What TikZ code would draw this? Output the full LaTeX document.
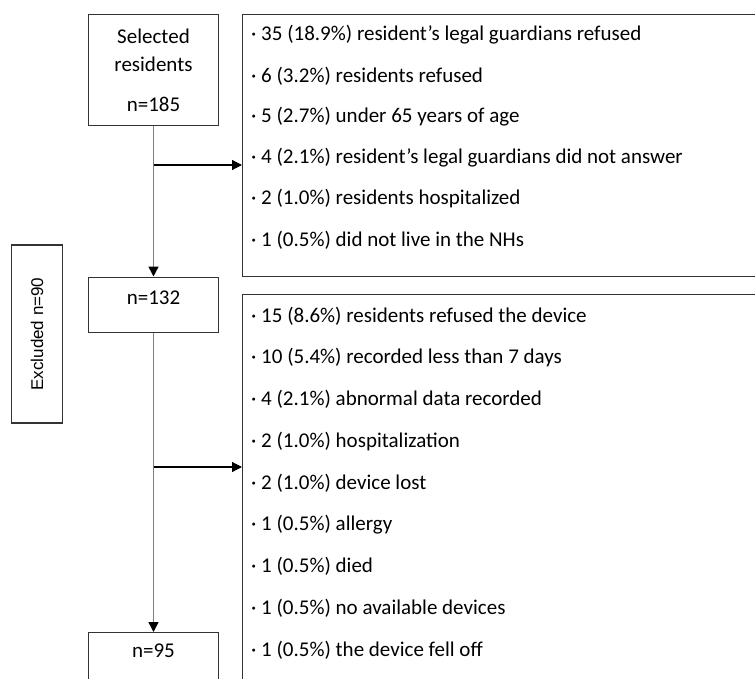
\documentclass[tikz,border=0pt]{standalone}
\usepackage{fontspec}
\setmainfont{Carlito}
\newfontfamily\exclfont{Liberation Sans}
\usetikzlibrary{arrows.meta}

\begin{document}
\begin{tikzpicture}[x=1pt, y=-1pt, >={Triangle[length=10pt,width=10pt,color=black]},
	every node/.style={font=\fontsize{21}{28}\selectfont}]
	\tikzstyle{box} = [draw=black!80, line width=1.2pt, inner sep=0pt]
	\tikzstyle{item} = [anchor=west, inner sep=0pt]
	\tikzstyle{flow} = [->, black!50, line width=1.5pt]
	\tikzstyle{side} = [->, black, line width=1.2pt]
	\useasboundingbox (0,0) rectangle (755,678);
	\clip (0,0) rectangle (755,678);
	% left column
	\node[box, minimum width=130pt, minimum height=111pt, align=center] (sel) at (153.5,70) {Selected\\residents\\[12pt]n=185};
	\node[box, anchor=north, minimum width=130pt, text height=27pt, text depth=28pt] (n132) at (153.5,276.5) {n=132};
	\node[box, anchor=north, minimum width=130pt, text height=25pt, text depth=70pt] (n95) at (153.5,632) {n=95};
	\node[box, rotate=90, minimum width=178pt, minimum height=51pt, font=\exclfont\fontsize{17}{20}\selectfont] (excl) at (37,334) {Excluded n=90};
	% exclusion lists
	\node[box, anchor=north west, minimum width=560pt, minimum height=262pt] (list1) at (242,14) {};
	\node[box, anchor=north west, minimum width=560pt, minimum height=430pt] (list2) at (242,294) {};
	\foreach \t [count=\i from 0] in {35 (18.9\%) resident’s legal guardians refused,
		6 (3.2\%) residents refused, 5 (2.7\%) under 65 years of age,
		4 (2.1\%) resident’s legal guardians did not answer,
		2 (1.0\%) residents hospitalized, 1 (0.5\%) did not live in the NHs}
		\node[item] (a\i) at (251,{35+41*\i}) {· \t};
	\foreach \t [count=\i from 0] in {15 (8.6\%) residents refused the device,
		10 (5.4\%) recorded less than 7 days, 4 (2.1\%) abnormal data recorded,
		2 (1.0\%) hospitalization, 2 (1.0\%) device lost, 1 (0.5\%) allergy,
		1 (0.5\%) died, 1 (0.5\%) no available devices, 1 (0.5\%) the device fell off}
		\node[item] (b\i) at (251,{316+41.75*\i}) {· \t};
	% connectors
	\coordinate (s1) at (153.5,165);
	\coordinate (s2) at (153.5,467);
	\draw[flow] (sel) -- (n132);
	\draw[flow] (n132) -- (n95);
	\draw[side] (s1) -- (s1 -| list1.west);
	\draw[side] (s2) -- (s2 -| list2.west);
\end{tikzpicture}
\end{document}
